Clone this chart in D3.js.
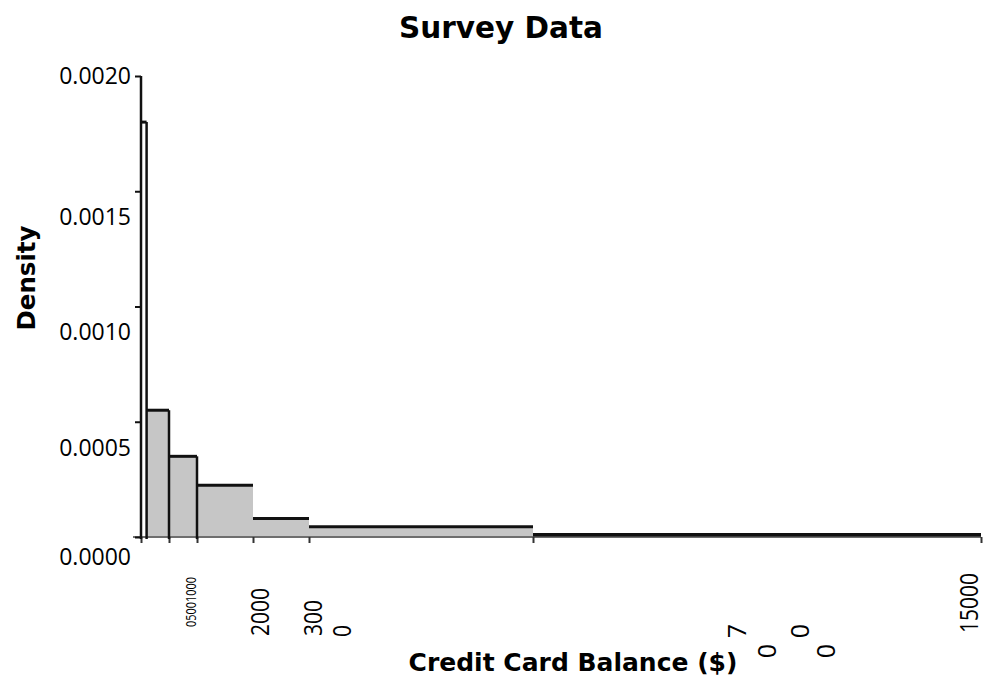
<!DOCTYPE html>
<html><head><meta charset="utf-8">
<script src="https://cdn.jsdelivr.net/npm/d3@7"></script>
<style>body{margin:0;background:#fff}</style>
</head><body><svg id="c" width="984" height="683"></svg>
<script>
// ---- data ----
const binEdges = [0, 100, 500, 1000, 2000, 3000, 7000, 15000];
const densities = [0.0018, 0.00055, 0.00035, 0.000225, 0.00008, 0.000045, 0.00001];
const xTickValues = [0, 500, 1000, 2000, 3000, 7000, 15000];
const xTickLabels = ["0", "500", "1000", "2000", "3000", "7000", "15000"];
const yTickValues = [0, 0.0005, 0.001, 0.0015, 0.002];
const yTickLabels = ["0.0000", "0.0005", "0.0010", "0.0015", "0.0020"];
const chartTitle = "Survey Data";
const xTitle = "Credit Card Balance ($)";
const yTitle = "Density";

// ---- drawing ----
const svg = d3.select("#c");
const x = d3.scaleLinear().domain([0, 15000]).range([141, 981]);
const y = d3.scaleLinear().domain([0, 0.002]).range([537, 76]);

const bins = densities.map((d, i) => ({x0: binEdges[i], x1: binEdges[i + 1], d}));

// fills (the very narrow first bin shows as outline only)
svg.append("g").selectAll("rect").data(bins).join("rect")
  .attr("x", b => x(b.x0)).attr("width", b => x(b.x1) - x(b.x0))
  .attr("y", b => y(b.d)).attr("height", b => y(0) - y(b.d))
  .attr("fill", (b, i) => i === 0 ? "#fff" : "#c6c6c6");

// x axis (domain line + ticks)
const xAxis = svg.append("g").attr("transform", `translate(0,${y(0)})`)
  .call(d3.axisBottom(x).tickValues(xTickValues).tickSize(6).tickSizeOuter(0).tickFormat(""));
xAxis.select(".domain").attr("stroke", "#6e6e6e").attr("stroke-width", 2)
  .attr("d", `M133,0H${x(15000)}`);
xAxis.selectAll(".tick line").attr("stroke", "#333").attr("stroke-width", 2);

// bar tops
svg.append("g").selectAll("line").data(bins).join("line")
  .attr("x1", b => x(b.x0)).attr("x2", b => x(b.x1))
  .attr("y1", b => y(b.d)).attr("y2", b => y(b.d))
  .attr("stroke", "#111").attr("stroke-width", (b, i) => i === bins.length - 1 ? 3.5 : 3);

// right edges of the narrow bins
svg.append("g").selectAll("line").data(bins.filter(b => b.x1 - b.x0 < 1000)).join("line")
  .attr("x1", b => x(b.x1)).attr("x2", b => x(b.x1))
  .attr("y1", b => y(b.d)).attr("y2", y(0) + 2)
  .attr("stroke", "#111").attr("stroke-width", 2.5);

// y axis
const yAxis = svg.append("g").attr("transform", `translate(${x(0)},0)`)
  .call(d3.axisLeft(y).tickValues(yTickValues).tickSize(6).tickPadding(4).tickSizeOuter(0)
    .tickFormat((v, i) => yTickLabels[i]));
yAxis.select(".domain").attr("stroke", "#111").attr("stroke-width", 2.5)
  .attr("d", `M0,${y(0.002)}V${y(0) + 2}`);
yAxis.selectAll(".tick line").attr("stroke", "#111").attr("stroke-width", 2);
yAxis.selectAll(".tick text")
  .attr("font-family", "'Open Sans', sans-serif").attr("font-size", 23).attr("fill", "#000")
  .attr("dy", "0.36em")
  .attr("y", v => v === 0.002 ? -1 : (v === 0 ? 19 : 25));

// x tick labels (as rendered in the source: crowded / wrapped)
const lab = svg.append("g").attr("font-family", "'Open Sans', sans-serif").attr("fill", "#000");
function rot(cx, bottom, txt, size, len, anchor) {
  const t = lab.append("text")
    .attr("transform", `translate(${cx},${bottom}) rotate(-90)`)
    .attr("dy", "0.36em").attr("font-size", size)
    .attr("text-anchor", anchor || "start").text(txt);
  if (len) t.attr("textLength", len).attr("lengthAdjust", "spacingAndGlyphs");
}
rot(x(1000) - 6, 627, xTickLabels.slice(0, 3).join(""), 15, 50);
rot(x(2000) + 6.5, 636, xTickLabels[3], 26, 48);
rot(x(3000) + 3.5, 636, xTickLabels[4].slice(0, 3), 26, 36);
rot(x(3000) + 32.5, 637, xTickLabels[4].slice(3), 26, 12);
const sevenOff = [[204, 631], [234, 651], [267, 631], [293, 651]];
xTickLabels[5].split("").forEach((ch, i) =>
  rot(x(7000) + sevenOff[i][0], sevenOff[i][1], ch, 25, null, "middle"));
rot(x(15000) - 12, 633, xTickLabels[6], 25, 60);

// titles
svg.append("text").attr("x", 501).attr("y", 38).attr("text-anchor", "middle")
  .attr("font-family", "'DejaVu Sans', sans-serif").attr("font-weight", "bold")
  .attr("font-size", 29.5).attr("fill", "#000").text(chartTitle);
svg.append("text").attr("x", 573).attr("y", 671).attr("text-anchor", "middle")
  .attr("font-family", "'DejaVu Sans', sans-serif").attr("font-weight", "bold")
  .attr("font-size", 25).attr("fill", "#000").text(xTitle);
svg.append("text").attr("transform", "translate(35,278) rotate(-90)").attr("text-anchor", "middle")
  .attr("font-family", "'DejaVu Sans', sans-serif").attr("font-weight", "bold")
  .attr("font-size", 24.5).attr("fill", "#000").text(yTitle);
</script></body></html>
